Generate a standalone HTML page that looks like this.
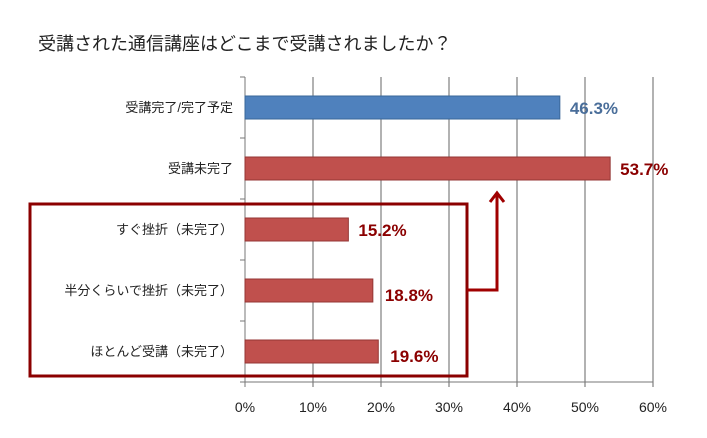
<!DOCTYPE html>
<html><head><meta charset="utf-8"><style>
body{margin:0;background:#fff;}
svg{font-family:"Liberation Sans","Noto Sans CJK JP",sans-serif;}
</style></head><body>
<svg id="c" width="707" height="433" xmlns="http://www.w3.org/2000/svg">
<text x="38" y="50" font-size="18" fill="#222">受講された通信講座はどこまで受講されましたか？</text>
<g id="grid"></g><g id="bars"></g><g id="labels"></g>
<rect x="30" y="204" width="437" height="172" fill="none" stroke="#8B0000" stroke-width="3"/>
<polyline points="467,290 497,290 497,194" fill="none" stroke="#A00000" stroke-width="3"/>
<polyline points="490,202 497,193 504,202" fill="none" stroke="#A00000" stroke-width="3"/>
</svg>
<script>
const categories=["受講完了/完了予定","受講未完了","すぐ挫折（未完了）","半分くらいで挫折（未完了）","ほとんど受講（未完了）"];
const values=[46.3,53.7,15.2,18.8,19.6];
const valueLabels=["46.3%","53.7%","15.2%","18.8%","19.6%"];
const ticks=[0,10,20,30,40,50,60];
const tickLabels=["0%","10%","20%","30%","40%","50%","60%"];
const NS="http://www.w3.org/2000/svg";
const x0=245,x1=653,yTop=77,band=61;
const xs=v=>x0+(v/60)*(x1-x0);
const yb=i=>yTop+i*band;
function mk(t,a,p){const e=document.createElementNS(NS,t);for(const k in a)e.setAttribute(k,a[k]);p.appendChild(e);return e;}
const g=document.getElementById('grid'),b=document.getElementById('bars'),l=document.getElementById('labels');
const yBot=yb(categories.length);
ticks.forEach((t,i)=>{
 const ln=mk('line',{x1:xs(t),x2:xs(t),y1:yTop,y2:yBot+5,stroke:i==0?'#777':'#666','stroke-width':1},g);
 
 
 const tx=mk('text',{x:xs(t),y:412,'font-size':14,'text-anchor':'middle',fill:'#222'},l);
 tx.textContent=tickLabels[i];
 
 
});
const ax=mk('line',{x1:x0-5,x2:x1,y1:yBot,y2:yBot,stroke:'#777'},g);


for(let i=0;i<=categories.length;i++){
 const tk=mk('line',{x1:x0-5,x2:x0,y1:yb(i),y2:yb(i),stroke:'#777'},g);
 
 
}
categories.forEach((c,i)=>{
 const y=yb(i)+19;
 const blue=i==0;
 const r=mk('rect',{x:x0,y:y,width:xs(values[i])-x0,height:23,fill:blue?'#4F81BD':'#C0504D',stroke:blue?'#3A6799':'#943634','stroke-width':1},b);
 
 
 const ct=mk('text',{x:233,y:y+16,'font-size':13,'text-anchor':'end',fill:'#222'},l);
 ct.textContent=c;
 
 
 const vt=mk('text',{x:xs(values[i])+(i>=3?12:10),y:y+18+(i>=3?4:0),'font-size':17,'font-weight':'bold',fill:blue?'#4A6E9A':'#8B0000'},l);
 vt.textContent=valueLabels[i];
 
 
});
</script>
</body></html>
